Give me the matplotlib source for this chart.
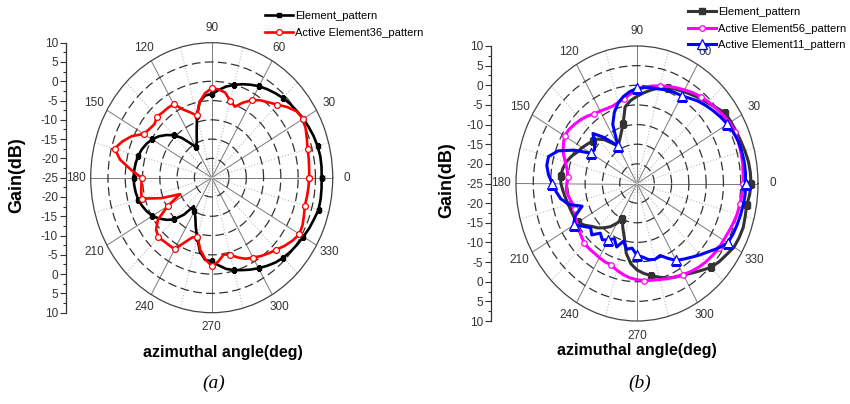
import numpy as np
import matplotlib
matplotlib.use("Agg")
import matplotlib.pyplot as plt
from matplotlib.ticker import FixedLocator, MultipleLocator

plt.rcParams['font.family'] = ['Liberation Sans', 'DejaVu Sans']

# azimuth sample angles (deg) shared by every pattern
theta = np.arange(0, 360, 5)

# ---- panel (a) ----
elem_a = [6.8, 6.9, 6.9, 6.7, 6.4, 6.0, 5.6, 5.1, 4.7, 4.2, 3.6, 3.0,
          2.4, 1.6, 0.8, -0.1, -1.0, -2.2, -3.3, -3.6, -5.0, -8.5, -12.3, -14.8,
          -15.8, -14.0, -11.5, -9.4, -7.8, -6.3, -5.1, -4.2, -3.5, -3.0, -2.7, -2.5,
          -2.4, -2.5, -2.7, -3.0, -3.6, -4.3, -5.2, -6.5, -8.0, -9.7, -12.5, -16.0,
          -15.0, -13.8, -11.5, -8.8, -5.5, -3.6, -3.3, -2.2, -1.0, -0.2, 0.5, 1.3,
          2.1, 2.9, 3.7, 4.3, 4.8, 5.2, 5.6, 6.1, 6.5, 7.0, 7.0, 6.9]
active36 = [3.2, 3.3, 3.5, 3.7, 4.3, 5.0, 5.6, 5.0, 3.5, 1.8, 0.5, -0.5,
            -1.8, -3.5, -5.4, -4.3, -2.6, -2.0, -1.8, -3.0, -5.0, -8.3, -7.0, -5.5,
            -3.0, -2.9, -2.9, -2.6, -3.4, -3.0, -2.3, 0.5, 2.5, 4.1, 1.9, -1.6,
            -4.7, -4.6, -4.3, -4.0, -9.5, -14.9, -10.3, -6.0, -4.0, -3.2, -3.5, -3.6,
            -3.6, -6.5, -8.5, -9.1, -6.0, -3.8, -2.1, -3.2, -4.8, -4.3, -3.0, -1.8,
            -1.1, -0.2, 0.6, 1.4, 2.5, 3.5, 4.3, 4.0, 3.4, 2.9, 3.0, 3.1]

# ---- panel (b) ----
elem_b = [8.0, 7.9, 7.7, 7.3, 6.9, 6.6, 6.4, 6.2, 5.0, 4.0, 3.3, 2.6,
          2.0, 1.5, 1.0, 0.2, -0.8, -1.8, -2.8, -3.8, -5.2, -9.4, -11.5, -13.0,
          -14.0, -12.5, -10.5, -9.0, -8.2, -7.5, -6.7, -6.0, -4.8, -3.8, -3.2, -2.8,
          -3.0, -3.5, -4.0, -4.4, -4.7, -4.9, -5.2, -6.5, -8.0, -9.0, -10.3, -11.6,
          -13.3, -15.0, -13.0, -10.8, -7.0, -4.5, -3.0, -2.0, -1.2, -0.3, 0.6, 1.3,
          1.9, 2.8, 3.9, 5.2, 6.0, 6.6, 7.4, 7.6, 7.7, 7.4, 7.2, 7.7]
active56 = [5.8, 5.8, 6.0, 6.1, 6.2, 6.3, 6.0, 5.4, 4.8, 4.3, 3.8, 3.2,
            2.5, 1.9, 1.3, 0.7, 0.2, -0.4, -1.0, -2.2, -3.1, -3.7, -4.1, -4.0,
            -3.7, -3.4, -2.6, -2.0, -1.5, -1.0, -0.8, -1.5, -2.3, -3.5, -4.5, -4.9,
            -4.7, -4.4, -5.0, -5.6, -5.8, -5.3, -4.9, -4.5, -4.0, -3.5, -3.4, -3.4,
            -3.2, -3.0, -3.0, -2.2, -1.5, -0.9, -0.5, -0.2, 0.0, 0.3, 0.8, 1.2,
            1.8, 2.3, 2.8, 3.2, 3.5, 3.8, 3.9, 4.2, 4.6, 5.0, 5.2, 5.5]
active11 = [6.4, 6.5, 6.5, 6.4, 6.2, 5.8, 5.2, 4.5, 3.8, 3.1, 2.4, 1.5,
            0.8, 0.6, 0.3, -0.1, -0.3, -0.5, -0.8, -1.5, -2.5, -3.8, -5.8, -8.4,
            -14.0, -12.0, -9.5, -7.0, -9.0, -10.0, -9.6, -4.9, -0.7, 1.5, 1.5, 0.7,
            -0.5, -1.5, -2.6, -4.5, -8.1, -5.2, -3.8, -6.0, -7.5, -6.5, -8.5, -7.5,
            -8.4, -9.5, -7.8, -9.8, -8.0, -8.5, -6.7, -6.2, -5.3, -5.0, -5.5, -4.0,
            -2.4, -1.5, -0.5, 0.7, 2.0, 3.7, 5.3, 5.6, 5.8, 6.0, 6.2, 6.4]

angle_ticks = np.arange(0, 360, 30)
gain_min, gain_max = -25, 10
ring_levels = [-20, -15, -10, -5, 0, 5]

W, H = 850, 404
fig = plt.figure(figsize=(W / 100, H / 100), dpi=100)


def closed(vals):
    t = np.radians(np.append(theta, theta[0]))
    return t, np.append(vals, vals[0])


def polar_panel(rect):
    ax = fig.add_axes(rect, projection='polar')
    ax.set_aspect('auto')
    ax.set_rlim(gain_min, gain_max)
    ax.set_rgrids(ring_levels, labels=[])
    ax.set_thetagrids(angle_ticks, labels=[str(a) for a in angle_ticks])
    ax.xaxis.set_minor_locator(FixedLocator(np.radians(angle_ticks + 15)))
    ax.grid(True, which='major', axis='x', color='#7a7a7a', lw=0.7, ls='-')
    ax.grid(True, which='minor', axis='x', color='#bdbdbd', lw=0.8, ls=':')
    ax.grid(True, which='major', axis='y', color='#333333', lw=0.9, ls=(0, (7, 3.5)))
    ax.tick_params(axis='x', which='both', length=0, labelsize=8.5, labelcolor='#333333')
    ax.tick_params(axis='y', length=0)
    ax.spines['polar'].set_color('#444444')
    ax.spines['polar'].set_linewidth(0.9)
    return ax


def gain_axis(xpix, rect):
    gx = fig.add_axes([xpix / W, rect[1], 0.001, rect[3]])
    for s in ['top', 'right', 'bottom']:
        gx.spines[s].set_visible(False)
    gx.spines['left'].set_color('#333333')
    gx.spines['left'].set_linewidth(0.9)
    gx.set_xticks([])
    span = gain_max - gain_min
    gx.set_ylim(-span, span)
    ticks = np.arange(-span, span + 1, 5)
    gx.set_yticks(ticks)
    gx.set_yticklabels(['%d' % (abs(t) + gain_min) for t in ticks])
    gx.yaxis.set_minor_locator(MultipleLocator(2.5))
    gx.tick_params(axis='y', which='major', length=4, width=0.8, labelsize=8.5,
                   colors='#333333', pad=1.5)
    gx.tick_params(axis='y', which='minor', length=2, width=0.8, colors='#333333')
    gx.patch.set_visible(False)
    return gx


# =========== (a) ===========
rect_a = [(211.7 - 121) / W, (H - 312.7) / H, 242 / W, 270 / H]
ax1 = polar_panel(rect_a)
gain_axis(65.7, rect_a)

t, r = closed(elem_a)
ax1.plot(t, r, color='black', lw=1.9, marker='s', ms=3, markevery=3,
         label='Element_pattern')
t, r = closed(active36)
ax1.plot(t, r, color='red', lw=1.9, marker='o', ms=4.2, mfc='white', mew=0.9,
         markevery=3, label='Active Element36_pattern')
ax1.legend(loc='upper left', bbox_to_anchor=(265 / W, 1 - 11 / H),
           bbox_transform=fig.transFigure, frameon=False, fontsize=8,
           handlelength=2.5, handletextpad=0.2, labelspacing=0.65,
           borderpad=0, borderaxespad=0)

fig.text(17 / W, 1 - 175 / H, 'Gain(dB)', rotation=90, ha='center', va='center',
         fontsize=13, fontweight='bold')
fig.text(223 / W, 1 - 352 / H, 'azimuthal angle(deg)', ha='center', va='center',
         fontsize=11.5, fontweight='bold')
fig.text(214 / W, 1 - 383 / H, '(a)', ha='center', va='center', fontsize=14,
         family='Liberation Serif', style='italic')

# =========== (b) ===========
rect_b = [(637 - 121) / W, (H - 321) / H, 242 / W, 275 / H]
ax2 = polar_panel(rect_b)
gain_axis(491, rect_b)

t, r = closed(elem_b)
ax2.plot(t, r, color='#333333', lw=2.2, marker='s', ms=5, markevery=7,
         label='Element_pattern')
t, r = closed(active56)
ax2.plot(t, r, color='#ff00ff', lw=2.2, marker='o', ms=4, mfc='white', mew=0.9,
         markevery=5, label='Active Element56_pattern')
t, r = closed(active11)
ax2.plot(t, r, color='#0000ff', lw=2.2, marker='^', ms=7, mfc='white', mew=0.9,
         markevery=6, label='Active Element11_pattern')
ax2.legend(loc='upper left', bbox_to_anchor=(688 / W, 1 - 7 / H),
           bbox_transform=fig.transFigure, frameon=False, fontsize=8,
           handlelength=2.5, handletextpad=0.2, labelspacing=0.6,
           borderpad=0, borderaxespad=0)

fig.text(447 / W, 1 - 180 / H, 'Gain(dB)', rotation=90, ha='center', va='center',
         fontsize=13, fontweight='bold')
fig.text(637 / W, 1 - 351 / H, 'azimuthal angle(deg)', ha='center', va='center',
         fontsize=11.5, fontweight='bold')
fig.text(640 / W, 1 - 383 / H, '(b)', ha='center', va='center', fontsize=14,
         family='Liberation Serif', style='italic')

fig.savefig('out.png', dpi=100, facecolor='white')
